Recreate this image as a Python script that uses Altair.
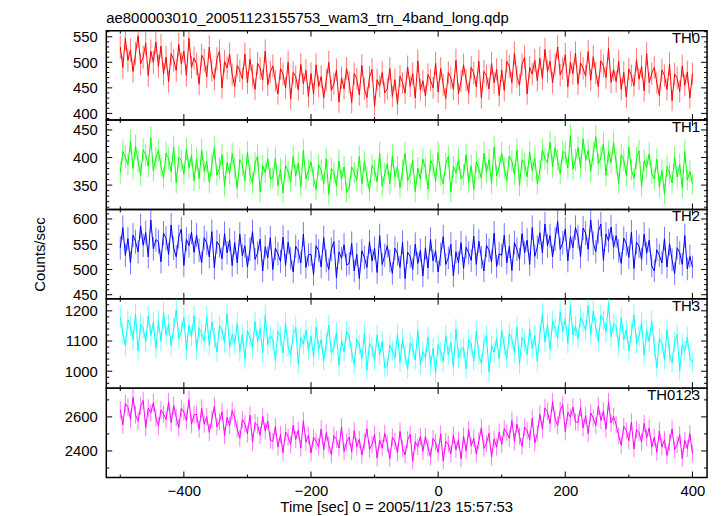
import altair as alt
import pandas as pd

FONT = "Liberation Sans"

# time bins (s) relative to 2005/11/23 15:57:53
times = list(range(-500, 401, 4))
EXPOSURE = 1.0  # s per sample used for the Poisson error bars

th0 = [
    530, 490, 547, 504, 524, 482, 517, 552, 497, 510, 537, 474, 522, 500, 540,
    492, 532, 477, 510, 462, 517, 504, 484, 535, 497, 522, 474, 547, 490, 508,
    497, 457, 514, 504, 472, 530, 484, 467, 507, 522, 450, 502, 489, 516, 476,
    452, 494, 483, 468, 516, 460, 506, 474, 447, 498, 488, 465, 522, 456, 481,
    493, 463, 438, 488, 477, 450, 500, 428, 480, 472, 446, 496, 458, 484, 433,
    478, 438, 495, 452, 472, 430, 465, 500, 445, 458, 485, 422, 470, 448, 488,
    461, 421, 478, 468, 436, 494, 448, 431, 471, 486, 414, 466, 453, 480, 440,
    448, 488, 433, 466, 418, 473, 460, 440, 491, 453, 478, 430, 503, 446, 464,
    434, 476, 465, 450, 498, 442, 488, 456, 429, 480, 470, 447, 504, 438, 463,
    495, 465, 440, 490, 479, 452, 502, 430, 482, 474, 448, 498, 460, 486, 435,
    485, 445, 502, 492, 460, 518, 472, 455, 495, 510, 438, 490, 477, 504, 464,
    508, 468, 525, 482, 502, 460, 495, 530, 475, 488, 515, 452, 500, 478, 518,
    457, 499, 488, 473, 521, 465, 511, 479, 452, 503, 493, 470, 527, 461, 486,
    462, 502, 447, 480, 432, 487, 474, 454, 505, 467, 492, 444, 517, 460, 478,
    490, 460, 435, 485, 474, 447, 497, 425, 477, 469, 443, 493, 455, 481, 430,
    478,
]

th1 = [
    373, 411, 401, 387, 430, 380, 421, 393, 368, 414, 405, 384, 436, 376, 399,
    413, 385, 363, 408, 398, 374, 419, 354, 401, 394, 370, 415, 381, 404, 358,
    398, 362, 414, 375, 393, 355, 387, 418, 368, 380, 405, 348, 391, 371, 407,
    381, 344, 396, 387, 358, 410, 369, 353, 390, 403, 338, 385, 373, 398, 362,
    363, 399, 349, 379, 336, 386, 374, 356, 402, 367, 390, 347, 413, 361, 377,
    392, 364, 342, 387, 377, 353, 398, 333, 380, 373, 349, 394, 360, 383, 337,
    345, 383, 373, 359, 402, 352, 393, 365, 340, 386, 377, 356, 408, 348, 371,
    388, 352, 404, 365, 383, 345, 377, 408, 358, 370, 395, 338, 381, 361, 397,
    380, 343, 395, 386, 357, 409, 368, 352, 389, 402, 337, 384, 372, 397, 361,
    369, 405, 355, 385, 342, 392, 380, 362, 408, 373, 396, 353, 419, 367, 383,
    408, 380, 358, 403, 393, 369, 414, 349, 396, 389, 365, 410, 376, 399, 353,
    376, 414, 398, 390, 428, 383, 418, 395, 371, 411, 408, 381, 440, 379, 396,
    418, 382, 434, 395, 413, 375, 407, 438, 388, 400, 425, 368, 411, 391, 427,
    390, 353, 405, 396, 367, 419, 378, 362, 399, 412, 347, 394, 382, 407, 371,
    361, 397, 347, 377, 334, 384, 372, 354, 400, 365, 388, 345, 411, 359, 375,
    352,
]

th2 = [
    543, 583, 528, 561, 513, 568, 555, 535, 586, 548, 573, 525, 598, 541, 559,
    555, 515, 572, 562, 530, 588, 542, 525, 565, 580, 508, 560, 547, 574, 534,
    568, 538, 513, 563, 552, 525, 575, 503, 555, 547, 521, 571, 533, 559, 508,
    553, 513, 570, 527, 547, 505, 540, 575, 520, 533, 560, 497, 545, 523, 563,
    500, 542, 531, 516, 564, 508, 554, 522, 495, 546, 536, 513, 570, 504, 529,
    530, 490, 547, 537, 505, 563, 517, 500, 540, 555, 483, 535, 522, 549, 509,
    512, 552, 497, 530, 482, 537, 524, 504, 555, 517, 542, 494, 567, 510, 528,
    547, 517, 492, 542, 531, 504, 554, 482, 534, 526, 500, 550, 512, 538, 487,
    543, 503, 560, 517, 537, 495, 530, 565, 510, 523, 550, 487, 535, 513, 553,
    502, 544, 533, 518, 566, 510, 556, 524, 497, 548, 538, 515, 572, 506, 531,
    528, 568, 513, 546, 498, 553, 540, 520, 571, 533, 558, 510, 583, 526, 544,
    573, 533, 590, 547, 567, 525, 560, 595, 540, 553, 580, 517, 565, 543, 583,
    565, 525, 582, 572, 540, 598, 552, 535, 575, 590, 518, 570, 557, 584, 544,
    567, 537, 512, 562, 551, 524, 574, 502, 554, 546, 520, 570, 532, 558, 507,
    497, 539, 528, 513, 561, 505, 551, 519, 492, 543, 533, 510, 567, 501, 526,
    505,
]

th3 = [
    1178, 1126, 1084, 1169, 1150, 1104, 1189, 1067, 1155, 1142, 1098, 1183, 1118, 1162, 1075,
    1166, 1098, 1195, 1121, 1155, 1084, 1144, 1203, 1109, 1132, 1178, 1070, 1152, 1115, 1183,
    1072, 1144, 1125, 1100, 1181, 1086, 1164, 1110, 1064, 1151, 1134, 1094, 1191, 1079, 1122,
    1091, 1159, 1065, 1122, 1040, 1134, 1111, 1077, 1164, 1099, 1142, 1060, 1185, 1088, 1118,
    1104, 1035, 1132, 1115, 1061, 1160, 1081, 1052, 1121, 1146, 1024, 1112, 1090, 1136, 1068,
    1116, 1048, 1145, 1071, 1105, 1034, 1094, 1153, 1059, 1082, 1128, 1020, 1102, 1065, 1133,
    1115, 1063, 1021, 1106, 1087, 1041, 1126, 1004, 1092, 1079, 1035, 1120, 1055, 1099, 1012,
    1015, 1087, 1068, 1043, 1124, 1029, 1107, 1053, 1007, 1094, 1077, 1037, 1134, 1022, 1065,
    1045, 1113, 1019, 1076, 994, 1088, 1065, 1031, 1118, 1053, 1096, 1014, 1139, 1042, 1072,
    1077, 1008, 1105, 1088, 1034, 1133, 1054, 1025, 1094, 1119, 997, 1085, 1063, 1109, 1041,
    1135, 1083, 1041, 1126, 1107, 1061, 1146, 1024, 1112, 1099, 1055, 1140, 1075, 1119, 1032,
    1123, 1191, 1097, 1154, 1072, 1166, 1143, 1109, 1196, 1131, 1174, 1092, 1217, 1120, 1150,
    1107, 1179, 1160, 1135, 1216, 1121, 1199, 1145, 1099, 1186, 1169, 1129, 1226, 1114, 1157,
    1149, 1081, 1178, 1104, 1138, 1067, 1127, 1186, 1092, 1115, 1161, 1053, 1135, 1098, 1166,
    1081, 1012, 1109, 1092, 1038, 1137, 1058, 1029, 1098, 1123, 1001, 1089, 1067, 1113, 1045,
    1030,
]

th0123 = [
    2641, 2553, 2678, 2656, 2586, 2714, 2612, 2575, 2663, 2696, 2538, 2652, 2623, 2683, 2595,
    2548, 2641, 2617, 2584, 2689, 2566, 2667, 2597, 2537, 2650, 2628, 2577, 2702, 2557, 2612,
    2615, 2527, 2652, 2557, 2601, 2509, 2586, 2663, 2542, 2571, 2630, 2491, 2597, 2549, 2637,
    2595, 2529, 2474, 2584, 2560, 2500, 2610, 2452, 2566, 2549, 2492, 2602, 2518, 2575, 2463,
    2456, 2544, 2423, 2496, 2390, 2511, 2482, 2438, 2551, 2467, 2522, 2416, 2577, 2452, 2491,
    2388, 2481, 2457, 2424, 2529, 2406, 2507, 2437, 2377, 2490, 2468, 2417, 2542, 2397, 2452,
    2482, 2394, 2519, 2424, 2468, 2376, 2453, 2530, 2409, 2438, 2497, 2358, 2464, 2416, 2504,
    2443, 2355, 2480, 2458, 2388, 2516, 2414, 2377, 2465, 2498, 2340, 2454, 2425, 2485, 2397,
    2485, 2419, 2364, 2474, 2450, 2390, 2500, 2342, 2456, 2439, 2382, 2492, 2408, 2465, 2353,
    2488, 2400, 2525, 2430, 2474, 2382, 2459, 2536, 2415, 2444, 2503, 2364, 2470, 2422, 2510,
    2438, 2531, 2507, 2474, 2579, 2456, 2557, 2487, 2427, 2540, 2518, 2467, 2592, 2447, 2502,
    2616, 2528, 2653, 2631, 2561, 2689, 2587, 2550, 2638, 2671, 2513, 2627, 2598, 2658, 2570,
    2568, 2656, 2535, 2608, 2502, 2623, 2594, 2550, 2663, 2579, 2634, 2528, 2689, 2564, 2603,
    2555, 2489, 2434, 2544, 2520, 2460, 2570, 2412, 2526, 2509, 2452, 2562, 2478, 2535, 2423,
    2480, 2392, 2517, 2422, 2466, 2374, 2451, 2528, 2407, 2436, 2495, 2356, 2462, 2414, 2502,
    2385,
]

labels = ["TH0", "TH1", "TH2", "TH3", "TH0123"]
colors = ["#ff0000", "#00ff00", "#0000ff", "#00ffff", "#ff00ff"]
series = [th0, th1, th2, th3, th0123]
ydomains = [[387, 562], [306, 468], [442, 619], [944, 1240], [2244, 2769]]
ymajors = [[400, 450, 500, 550], [350, 400, 450], [450, 500, 550, 600],
           [1000, 1100, 1200], [2400, 2600]]
yminor_steps = [10, 10, 10, 20, 100]

x_major = [-400, -200, 0, 200, 400]
x_minor = [-500, -300, -100, 100, 300]
x_domain = [-522, 423]

TITLE = "ae800003010_20051123155753_wam3_trn_4band_long.qdp"
XTITLE = "Time [sec] 0 = 2005/11/23 15:57:53"

W, H = 605, 90
MAJ, MIN = 6, 3


def panel(i):
    values = series[i]
    ydom = ydomains[i]
    ymaj = ymajors[i]
    step = yminor_steps[i]
    lo = (int(ydom[0]) // step + 1) * step
    ymin = [v for v in range(lo, int(ydom[1]) + 1, step) if v not in ymaj]
    bottom = i == len(series) - 1

    xs = alt.Scale(domain=x_domain, nice=False, zero=False)
    ys = alt.Scale(domain=ydom, nice=False, zero=False)

    if bottom:
        xenc = alt.X("t:Q", scale=xs, axis=alt.Axis(
            values=x_major, ticks=False, domain=False, grid=False,
            labelFont=FONT, labelFontSize=15, labelColor="black",
            labelPadding=6, labelFlush=False,
            title=XTITLE, titleFont=FONT, titleFontSize=15,
            titleFontWeight="normal", titleColor="black", titlePadding=1,
            titleX=292))
    else:
        xenc = alt.X("t:Q", scale=xs, axis=None)

    yax = dict(values=ymaj, ticks=False, domain=False, grid=False,
               labelFont=FONT, labelFontSize=15, labelColor="black",
               labelPadding=9, format="d")
    if i == 2:
        yax.update(title="Counts/sec", titleFont=FONT, titleFontSize=15,
                   titleFontWeight="normal", titleColor="black", titlePadding=25)
    else:
        yax.update(title=None)
    yenc = alt.Y("v:Q", scale=ys, axis=alt.Axis(**yax))

    df = pd.DataFrame({"t": times, "v": values})
    err = (df["v"] / EXPOSURE) ** 0.5
    df["lo"] = df["v"] - err
    df["hi"] = df["v"] + err

    bars = alt.Chart(df).mark_rule(color=colors[i], strokeWidth=1, opacity=0.55,
                                   clip=True).encode(
        x=xenc, y=alt.Y("lo:Q", scale=ys, axis=alt.Axis(**yax)), y2="hi:Q")
    line = alt.Chart(df).mark_line(color=colors[i], strokeWidth=1, clip=True).encode(
        x=xenc, y=yenc)

    layers = [bars, line]
    dmaj = pd.DataFrame({"v": ymaj})
    dmin = pd.DataFrame({"v": ymin})
    for d, ln in ((dmaj, MAJ), (dmin, MIN)):
        layers.append(alt.Chart(d).mark_rule(color="black", strokeWidth=1).encode(
            y=yenc, x=alt.value(0), x2=alt.value(ln)))
        layers.append(alt.Chart(d).mark_rule(color="black", strokeWidth=1).encode(
            y=yenc, x=alt.value(W - ln), x2=alt.value(W)))
    txmaj = pd.DataFrame({"t": x_major})
    txmin = pd.DataFrame({"t": x_minor})
    for d, ln in ((txmaj, MAJ), (txmin, MIN)):
        layers.append(alt.Chart(d).mark_rule(color="black", strokeWidth=1).encode(
            x=xenc, y=alt.value(0), y2=alt.value(ln)))
        layers.append(alt.Chart(d).mark_rule(color="black", strokeWidth=1).encode(
            x=xenc, y=alt.value(H - ln), y2=alt.value(H)))

    lab = alt.Chart(pd.DataFrame({"s": [labels[i]]})).mark_text(
        align="right", baseline="alphabetic", font=FONT, fontSize=15, color="black"
    ).encode(text="s:N", x=alt.value(W - 7), y=alt.value(12))
    layers.append(lab)

    props = dict(width=W, height=H)
    if i == 0:
        props["title"] = alt.TitleParams(
            text=TITLE, anchor="start", frame="group", font=FONT, fontSize=15,
            fontWeight="normal", color="black", offset=4)
    return alt.layer(*layers).properties(**props)


chart = alt.vconcat(*[panel(i) for i in range(5)], spacing=0, bounds="flush").properties(
    padding={"left": 24, "top": 0, "right": 5, "bottom": 5}
).configure_view(stroke="black", strokeWidth=1.5)

chart.save("out.html", embed_options={"renderer": "svg", "actions": False})
